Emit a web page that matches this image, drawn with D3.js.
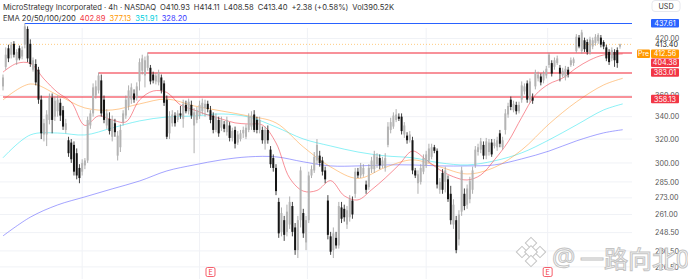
<!DOCTYPE html>
<html><head><meta charset="utf-8">
<script src="https://cdn.jsdelivr.net/npm/d3@7"></script>
<style>html,body{margin:0;padding:0;background:#fff;overflow:hidden}svg{display:block;font-family:Inter,"Noto Sans",sans-serif}</style>
</head><body><svg id="c" width="688" height="279"></svg>
<script>
// ---- DATA ----
const title = "MicroStrategy Incorporated · 4h · NASDAQ";
const ohlcText = ["O410.93", "H414.11", "L408.58", "C413.40", "+2.38 (+0.58%)", "Vol390.52K"];
const emaLabel = "EMA 20/50/100/200";
const emaLast = [402.89, 377.13, 351.91, 328.20];
// candles: [open, high, low, close]
const candles = [
[369,381,365,378],[389,410,386,402],[409,413,394,398],[402,416,398,413],[414,417,399,402],
[396,408,391,405],[409,412,396,398],[400,411,397,407],[413,437.61,409,434],
[431,434,394,398],[414,419,389,392],[386,399,384,396],[392,397,370,373],[386,389,352,356],
[356,360,320,325],[324,338,318,334],[324,346,314,342],[337,362,333,358],
[358,362,325,337],[340,359,336,355],[345,360,340,356],[353,357,336,341],[346,350,328,331],
[328,338,325,334],[319,322,305,308],[317,320,300,303],[315,318,290,293],[308,312,287,290],
[296,299,284,288],[293,303,290,300],[298,304,295,302],[302,340,300,337],[332,346,329,343],
[343,372,340,368],[360,375,357,369],[365,383.01,362,380],[375,381,340,343],[356,360,334,337],
[332,347,329,343],[338,344,324,327],[322,341,318,337],[334,338,322,326],[306,327,302,323],
[313,333,309,328],[335,346,332,343],[341,360,338,356],[350,370,346,365],[356,372,352,368],
[362,366,353,356],[358,373,355,369],[374,398,365,394],[385,402,381,398],[380,400,368,396],
[388,404.38,385,401],[388,391,371,374],[381,384,372,375],[374,383,371,380],[373,386,370,383],
[378,381,362,365],[372,375,350,353],[356,360,320,322],[325,345,320,340],[334,346,331,342],
[341,344,331,334],[337,346,335,343],[343,350,338,341],[338,356,330,352],[351,355,343,345],[345,357,342,354],
[351,355,338,341],[332,348,308,344],[337,349,334,346],[341,355,338,351],[345,357,342,353],
[348,356,340,352],[352,355,344,347],[346,350,334,337],[341,344,325,328],[328,343,326,340],[337,340,322,325],
[330,340,327,337],[333,336,326,329],[326,340,323,337],[332,335,318,321],[321,330,318,327],
[328,331,312,316],[317,327,315,324],[320,328,318,325],[325,331,321,328],[322,333,320,330],[328,343,326,340],
[331,345,328,341],[342,346,326,328],[337,340,325,328],[328,340,325,337],[328,331,316,319],
[316,331,311,328],[328,332,316,319],[311,314,296,299],[304,307,293,296],[296,299,275,278],
[270,273,245,248],[249,266,246,262],[257,260,243,247],[249,268,246,263],[254,274,251,270],
[267,270,246,249],[252,255,234,237],[237,260,232,257],[257,297,252,294],[262,265,245,248],
[242,260,237,257],[257,293,255,290],[290,298,288,295],[294,309,292,305],[302,320,299,315],
[306,310,297,300],[302,305,290,293],[294,297,284,287],[271,275,244,247],[246,249,234,236],
[237,252,232,248],[245,249,238,240],[240,270,238,267],[266,270,255,258],[265,268,256,259],
[254,267,251,264],[259,275,256,272],[271,274,258,261],[276,296,273,293],[293,296,288,290],
[290,300,288,297],[291,299,289,296],[283,286,276,279],[281,299,279,296],[295,305,292,302],
[295,310,292,307],[299,308,296,305],[304,307,295,298],[298,305,296,302],[296,308,293,304],
[315,335,313,331],[328,339,325,335],[331,344,329,341],[337,347,335,342],[340,343,336,338],
[340,343,324,327],[324,335,321,332],[323,326,316,319],[319,327,317,324],[319,322,291,294],
[294,296,288,290],[284,294,276,291],[285,299,283,296],[293,307,291,304],[298,310,296,307],
[302,316,300,312],[305,316,303,313],[313,315,308,310],[310,312,280,283],[279,288,276,285],
[292,295,276,279],[285,297,277,294],[287,290,270,272],[276,282,254,257],[254,272,251,268],
[257,260,235,237],[244,264,240,261],[263,297,260,294],[276,280,264,267],[268,283,265,280],
[272,289,269,286],[279,297,276,294],[298,314,296,311],[309,316,306,313],[311,321,308,318],
[315,318,303,306],[306,321,303,318],[309,320,306,317],[317,320,305,307],[314,320,312,317],
[313,322,310,319],[325,328,313,316],[313,322,311,319],[328,347,324,343],[342,353,339,350],
[356,359,346,349],[346,355,344,352],[351,354,342,345],[345,354,343,351],[356,374,353,370],
[364,372,361,369],[372,375,353,356],[356,377,353,374],[358,362,352,355],[369,386,366,383],
[377,384,374,381],[379,382,370,373],[375,385,372,382],[380,390,377,387],[391,404,388,402],
[393,396,379,382],[389,399,386,396],[393,401,391,398],[388,391,374,382],[380,388,378,385],
[378,390,375,387],[386,389,378,381],[391,399,389,396],[393,399,390,397],[406,425,404,422],
[421,424,409,411],[406,430,403,427],[418,421,405,408],[416,419,402,405],[404,422,402,419],
[411,421,408,418],[415,425,412,422],[417,426,414,424],[421,424,410,413],[416,418,408,411],
[410,413,395,398],[405,408,391,394],[398,410,395,407],[405,408,389,396],[407,410,388,393],
[410.93,414.11,408.58,413.40]
];
// EMA readings (candle index, value)
const ema20Idx = d3.range(0, 226, 5).concat([227]);
const ema20 = [383.5,392.6,392.6,376.5,363,353.7,332,340.7,337,335.2,355.7,364.4,363,350.9,346.2,341.6,337.9,334.3,333.3,332.4,316.7,288,278,278.5,286,274.5,271.5,279,288,298.4,309.8,302.5,294.4,289,286.5,290.4,302.5,317.6,339.3,360.5,371.4,377.4,387.8,396.3,401.7,402.5,402.89];
const emaIdx = d3.range(0, 221, 10).concat([227]);
const ema50 = [355.7,371.4,360.5,348.1,346.2,351.9,356.6,350,345.3,340.6,334.3,313.3,296.8,287.7,296.4,302.5,296.8,291.2,296.4,310.7,333.3,353.8,370.4,377.13];
const ema100 = [304.2,323.6,325.3,323.6,329.8,336.1,339.7,340.6,342.5,339.7,330.6,320.1,314.1,309,305.8,304.2,300.1,298.4,301.7,308.3,319.3,332.4,346.2,351.91];
const ema200 = [246.3,259.1,267.8,273.7,279.7,285.7,293.6,298.4,302.5,305,305,300.9,297.6,297.6,298.4,298.4,297.6,297.6,298.4,303.3,309.8,318.4,325.4,328.2];
// horizontal levels: value, start candle index
const levelValues = [437.61, 404.38, 383.01, 358.13];
const levelStart = [8, 53, 35, 0];
const levelKinds = ["blue", "red", "red", "red"];
const tickValues = [420, 360, 340, 320, 300, 285, 273, 261, 248.5, 236.5, 226.5];
const lastPrice = 413.40;
const prePrice = 412.56;
const gridIdx = [29, 72, 111.5, 155, 199.5];
const earningsIdx = [76, 199.5];

// ---- CHART ----
const svg = d3.select("#c");
const N = candles.length;
const x = d3.scaleLinear().domain([0, N - 1]).range([3, 620]);
const y = d3.scaleLog().domain([226.5, 437.61]).range([266.9, 23.3]);
const plotR = 632;
const col = {red: "#f23645", orange: "#ff9800", cyan: "#00bcd4", blue: "#2962ff"};

// grid
svg.append("g").selectAll("line").data(tickValues).join("line")
  .attr("x1", 0).attr("x2", plotR).attr("y1", d => y(d)).attr("y2", d => y(d))
  .attr("stroke", "#f0f2f6").attr("stroke-width", 1);
svg.append("g").selectAll("line").data(gridIdx).join("line")
  .attr("x1", d => x(d)).attr("x2", d => x(d)).attr("y1", 28).attr("y2", 279)
  .attr("stroke", "#f0f2f6").attr("stroke-width", 1);

// current price dotted line
svg.append("line").attr("x1", 0).attr("x2", plotR).attr("y1", y(lastPrice)).attr("y2", y(lastPrice))
  .attr("stroke", "#ffcc80").attr("stroke-dasharray", "1,2").attr("stroke-width", 1);

// EMA lines
const line = (idx) => d3.line().x((d, i) => x(idx[i])).y(d => y(d)).curve(d3.curveCatmullRom.alpha(0.5));
const emaSets = [[ema200, emaIdx, "rgba(90,90,255,0.55)"], [ema100, emaIdx, "rgba(0,225,235,0.45)"],
                 [ema50, emaIdx, "rgba(255,150,40,0.5)"], [ema20, ema20Idx, "rgba(242,54,69,0.55)"]];
emaSets.forEach(([vals, idx, c]) => {
  svg.append("path").datum(vals).attr("d", line(idx)).attr("fill", "none").attr("stroke", c).attr("stroke-width", 1);
});

// level lines
levelValues.forEach((v, i) => {
  const blue = levelKinds[i] === "blue";
  const yy = Math.round(y(v)) + (blue ? 0.5 : 0);
  svg.append("line").attr("x1", x(levelStart[i])).attr("x2", plotR).attr("y1", yy).attr("y2", yy)
    .attr("stroke", blue ? col.blue : "rgba(242,54,69,0.55)").attr("stroke-width", blue ? 1 : 2);
});

// candles
const cg = svg.append("g");
const bw = 2;
candles.forEach((c, i) => {
  const [o, h, l, cl] = c;
  const up = cl >= o;
  const cx = x(i);
  cg.append("line").attr("x1", cx).attr("x2", cx).attr("y1", y(h)).attr("y2", y(l))
    .attr("stroke", up ? "#9a9a9a" : "#151515").attr("stroke-width", 0.8);
  const top = y(Math.max(o, cl)), bot = y(Math.min(o, cl));
  cg.append("rect").attr("x", cx - bw / 2).attr("y", top).attr("width", bw).attr("height", Math.max(0.8, bot - top))
    .attr("fill", up ? "#b4b4b4" : "#151515");
});

// header
const h1 = svg.append("text").attr("x", 3).attr("y", 9.5).attr("font-size", 7.6).attr("fill", "#333");
h1.append("tspan").text(title);
ohlcText.forEach(t => h1.append("tspan").attr("dx", 4).text(t));
const h2 = svg.append("text").attr("x", 3).attr("y", 20.5).attr("font-size", 7.6).attr("fill", "#333");
h2.append("tspan").text(emaLabel);
const emaCols = ["#f23645", "#ff9800", "#00d0e0", "#3b3bff"];
emaLast.forEach((v, i) => h2.append("tspan").attr("dx", 4).attr("fill", emaCols[i]).text(v.toFixed(2)));

// right axis
svg.append("rect").attr("x", 652).attr("y", 0.5).attr("width", 28).attr("height", 11).attr("rx", 3)
  .attr("fill", "#fff").attr("stroke", "#e6e8ee");
svg.append("text").attr("x", 666).attr("y", 8.5).attr("text-anchor", "middle").attr("font-size", 7.2).attr("fill", "#333").text("USD");
svg.append("g").selectAll("text").data(tickValues).join("text")
  .attr("x", 655).attr("y", d => y(d) + 2.6).attr("font-size", 7.2).attr("fill", "#555").text(d => d.toFixed(2));

// stacked labels near current price
const tagH = 8.5, tagX = 651, tagW = 28;
let yLast = y(lastPrice) + 0.5;
svg.append("text").attr("x", 655).attr("y", yLast + 2.6).attr("font-size", 7.2).attr("fill", "#222").text(lastPrice.toFixed(2));
let yPre = Math.max(y(prePrice), yLast + 9);
let y404 = Math.max(y(levelValues[1]), yPre + 9);
function tag(cy, txt, fill) {
  svg.append("rect").attr("x", tagX).attr("y", cy - tagH / 2).attr("width", tagW).attr("height", tagH).attr("rx", 1).attr("fill", fill);
  svg.append("text").attr("x", tagX + tagW / 2).attr("y", cy + 2.6).attr("text-anchor", "middle").attr("font-size", 7.2).attr("fill", "#fff").text(txt);
}
svg.append("rect").attr("x", 637).attr("y", yPre - tagH / 2).attr("width", 13).attr("height", tagH).attr("rx", 1).attr("fill", col.orange);
svg.append("text").attr("x", 643.5).attr("y", yPre + 2.6).attr("text-anchor", "middle").attr("font-size", 7).attr("fill", "#fff").text("Pre");
tag(yPre, prePrice.toFixed(2), col.orange);
tag(y(levelValues[0]), levelValues[0].toFixed(2), col.blue);
tag(y404, levelValues[1].toFixed(2), col.red);
tag(y(levelValues[2]), levelValues[2].toFixed(2), col.red);
tag(y(levelValues[3]) + 1.5, levelValues[3].toFixed(2), col.red);

// earnings markers
earningsIdx.forEach(i => {
  const g = svg.append("g").attr("transform", `translate(${x(i)},272)`);
  g.append("rect").attr("x", -4.5).attr("y", -4.5).attr("width", 9).attr("height", 9).attr("rx", 1.5)
    .attr("fill", "#fff").attr("stroke", "#f23645").attr("stroke-width", 0.8);
  g.append("text").attr("y", 2.6).attr("text-anchor", "middle").attr("font-size", 7).attr("fill", "#f23645").text("E");
});

// watermark
const wm = svg.append("g").attr("fill", "#fff").attr("stroke", "#c4c4c4").attr("stroke-width", 1);
const lg = wm.append("g").attr("transform", "translate(531,252)");
[[0,-9,4],[-9,0,4],[9,0,4],[0,0,4.5],[0,9,4]].forEach(([dx,dy,s]) => {
  lg.append("rect").attr("x", dx - s).attr("y", dy - s).attr("width", 2*s).attr("height", 2*s)
    .attr("transform", `rotate(45 ${dx} ${dy})`);
});
wm.append("text").attr("x", 552).attr("y", 266).attr("font-size", 26).attr("font-family", "Noto Sans").text("@");
wm.append("text").attr("x", 580).attr("y", 268).attr("font-size", 24).attr("font-family", "Noto Sans CJK SC").text("一路向北0");
</script></body></html>
